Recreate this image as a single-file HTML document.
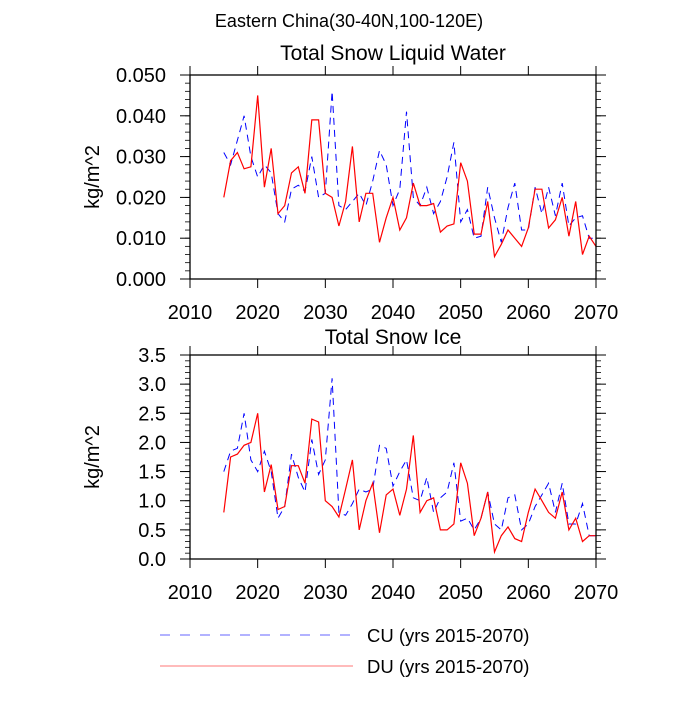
<!DOCTYPE html>
<html><head><meta charset="utf-8"><style>
body{margin:0;background:#fff;}
svg text{font-family:"Liberation Sans",sans-serif;fill:#000;}
</style></head><body>
<svg id="c" width="700" height="700" viewBox="0 0 700 700" xmlns="http://www.w3.org/2000/svg">
<text x="349" y="27" font-size="18" text-anchor="middle">Eastern China(30-40N,100-120E)</text>
<text x="393" y="60" font-size="21" text-anchor="middle">Total Snow Liquid Water</text>
<text x="393" y="344" font-size="21" text-anchor="middle">Total Snow Ice</text>
<g id="p1"></g>
<g id="p2"></g>
<g>
<line x1="160" y1="635" x2="353" y2="635" stroke="#6666ff" stroke-width="1" stroke-dasharray="10,10"/>
<text x="367" y="642" font-size="18.5">CU (yrs 2015-2070)</text>
<line x1="160" y1="666" x2="353" y2="666" stroke="#ff7777" stroke-width="1"/>
<text x="367" y="673" font-size="18.5">DU (yrs 2015-2070)</text>
</g>
</svg>
<script>
const years = [];
for (let y = 2015; y <= 2070; y++) years.push(y);
const xTicks = [2010,2020,2030,2040,2050,2060,2070];
const waterTicks = ["0.000","0.010","0.020","0.030","0.040","0.050"];
const iceTicks = ["0.0","0.5","1.0","1.5","2.0","2.5","3.0","3.5"];
const waterDU = [0.020,0.029,0.031,0.027,0.0275,0.045,0.0225,0.032,0.016,0.018,0.026,0.0275,0.021,0.039,0.039,0.021,0.020,0.013,0.019,0.0325,0.014,0.021,0.021,0.009,0.015,0.020,0.012,0.015,0.0235,0.018,0.018,0.0185,0.0115,0.013,0.0135,0.0285,0.024,0.011,0.011,0.019,0.0055,0.0085,0.012,0.010,0.008,0.0125,0.022,0.022,0.0125,0.0145,0.020,0.0105,0.019,0.006,0.0105,0.008];
const waterCU = [0.031,0.028,0.034,0.040,0.030,0.025,0.028,0.026,0.016,0.014,0.022,0.023,0.0215,0.030,0.020,0.021,0.046,0.018,0.017,0.019,0.021,0.018,0.024,0.0315,0.028,0.018,0.022,0.041,0.020,0.018,0.0225,0.016,0.019,0.025,0.0335,0.014,0.017,0.010,0.0105,0.0225,0.015,0.009,0.0175,0.0235,0.012,0.012,0.0225,0.016,0.0225,0.0155,0.0235,0.013,0.015,0.0155,0.010,0.010];
const iceDU = [0.8,1.75,1.8,1.95,2.0,2.5,1.15,1.62,0.85,0.9,1.6,1.6,1.3,2.4,2.35,1.0,0.9,0.72,1.2,1.7,0.5,1.0,1.3,0.45,1.1,1.2,0.75,1.2,2.12,0.8,1.0,1.05,0.5,0.5,0.6,1.65,1.3,0.4,0.7,1.15,0.12,0.4,0.55,0.35,0.3,0.8,1.2,1.0,0.8,0.7,1.15,0.5,0.7,0.3,0.4,0.4];
const iceCU = [1.5,1.85,1.9,2.5,1.7,1.5,1.85,1.5,0.7,0.9,1.8,1.4,1.15,2.05,1.45,1.7,3.1,0.8,0.75,0.95,1.2,1.15,1.2,1.95,1.9,1.25,1.5,1.7,1.05,1.0,1.4,0.8,1.05,1.15,1.65,0.65,0.7,0.5,0.7,1.15,0.6,0.5,1.05,1.1,0.5,0.6,0.9,1.1,1.3,0.8,1.3,0.6,0.6,0.95,0.4,0.4];
const NS = "http://www.w3.org/2000/svg";
function mk(tag, attrs, parent){const e=document.createElementNS(NS,tag);for(const k in attrs)e.setAttribute(k,attrs[k]);parent.appendChild(e);return e;}
const X0=190, X1=596;
function xs(v){return X0+(v-2010)/60*(X1-X0);}
function panel(g, top, bot, ymax, ticks, minorStep, du, cu, tag){
  function ys(v){return bot-(v/ymax)*(bot-top);}
  const pc = years.map((y,i)=>xs(y).toFixed(1)+","+ys(cu[i]).toFixed(1)).join(" ");
  const l1 = mk("polyline",{points:pc,fill:"none",stroke:"#0000ff","stroke-width":1,"stroke-dasharray":"7,5"},g);
  
  
  const pd = years.map((y,i)=>xs(y).toFixed(1)+","+ys(du[i]).toFixed(1)).join(" ");
  const l2 = mk("polyline",{points:pd,fill:"none",stroke:"#ff0000","stroke-width":1.2},g);
  
  
  const fr = mk("rect",{x:X0,y:top,width:X1-X0,height:bot-top,fill:"none",stroke:"#000","stroke-width":1.3},g);
  
  
  xTicks.forEach(t=>{
    const x=xs(t);
    mk("line",{x1:x,y1:bot,x2:x,y2:bot+9,stroke:"#000","stroke-width":1},g);
    mk("line",{x1:x,y1:top,x2:x,y2:top-9,stroke:"#000","stroke-width":1},g);
    const tx=mk("text",{x:x,y:bot+40,"font-size":20,"text-anchor":"middle"},g);
    tx.textContent=t;
    
    
  });
  for(let v=0; v<=ymax+1e-9; v+=minorStep){
    const y=ys(v);
    mk("line",{x1:X0,y1:y,x2:X0-5,y2:y,stroke:"#000","stroke-width":0.8},g);
    mk("line",{x1:X1,y1:y,x2:X1+5,y2:y,stroke:"#000","stroke-width":0.8},g);
  }
  ticks.forEach(t=>{
    const y=ys(parseFloat(t));
    mk("line",{x1:X0,y1:y,x2:X0-10,y2:y,stroke:"#000","stroke-width":1},g);
    mk("line",{x1:X1,y1:y,x2:X1+10,y2:y,stroke:"#000","stroke-width":1},g);
    const tx=mk("text",{x:166,y:y+7,"font-size":20,"text-anchor":"end"},g);
    tx.textContent=t;
    
    
  });
  const yt=mk("text",{x:0,y:0,"font-size":20,"text-anchor":"middle",transform:"translate(99,"+((top+bot)/2)+") rotate(-90)"},g);
  yt.textContent="kg/m^2";
  
  
}
panel(document.getElementById("p1"),75,279,0.05,waterTicks,0.002,waterDU,waterCU,"water");
panel(document.getElementById("p2"),355,559,3.5,iceTicks,0.1,iceDU,iceCU,"ice");
</script>
</body></html>
